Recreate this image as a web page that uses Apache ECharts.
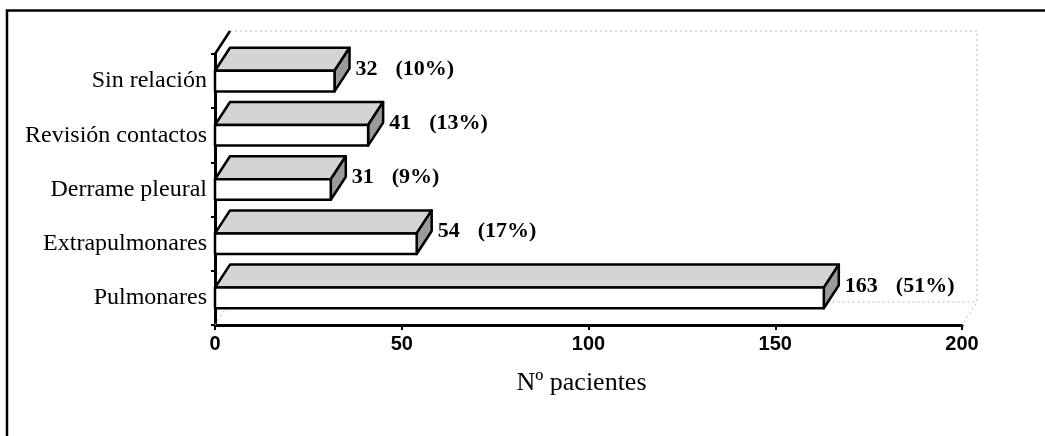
<!DOCTYPE html>
<html>
<head>
<meta charset="utf-8">
<script src="https://cdn.jsdelivr.net/npm/echarts@6/dist/echarts.min.js"></script>
<style>
  html, body { margin: 0; padding: 0; background: #fff; }
  #chart { width: 1045px; height: 436px; }
</style>
</head>
<body>
<div id="chart"></div>
<script>
// data, bottom to top
const categories = ['Pulmonares', 'Extrapulmonares', 'Derrame pleural', 'Revisión contactos', 'Sin relación'];
const patients = [163, 54, 31, 41, 32];
const percents = ['51%', '17%', '9%', '13%', '10%'];
const xTicks = [0, 50, 100, 150, 200];

const DX = 15, DY = -23;   // 3d depth offset in px
const serif = "'Liberation Serif', 'Times New Roman', serif";

const chart = echarts.init(document.getElementById('chart'));

function renderBar(params, api) {
  const v = api.value(0), i = api.value(1);
  const band = api.size([0, 1])[1];
  const h = band * 0.38 / 2;
  const p0 = api.coord([0, i]);
  const p1 = api.coord([v, i]);
  const x0 = p0[0], x1 = p1[0], yc = p0[1];
  const yT = yc - h, yB = yc + h;
  const edge = { stroke: '#000', lineWidth: 2.5, lineJoin: 'round' };
  return {
    type: 'group',
    children: [
      { type: 'polygon', shape: { points: [[x0, yT], [x1, yT], [x1 + DX, yT + DY], [x0 + DX, yT + DY]] },
        style: Object.assign({ fill: '#d4d4d4' }, edge) },
      { type: 'polygon', shape: { points: [[x1, yT], [x1 + DX, yT + DY], [x1 + DX, yB + DY], [x1, yB]] },
        style: Object.assign({ fill: '#9a9a9a' }, edge) },
      { type: 'rect', shape: { x: x0, y: yT, width: x1 - x0, height: yB - yT },
        style: Object.assign({ fill: '#fff' }, edge) },
      { type: 'text', x: x1 + DX + 6, y: yc - 12,
        style: {
          text: '{n|' + patients[params.dataIndex] + '}{p|(' + percents[params.dataIndex] + ')}',
          verticalAlign: 'middle',
          rich: {
            n: { fontFamily: serif, fontWeight: 'bold', fontSize: 22, fill: '#000' },
            p: { fontFamily: serif, fontWeight: 'bold', fontSize: 22, fill: '#000', padding: [0, 0, 0, 18] }
          }
        } }
    ]
  };
}

function renderWall(params, api) {
  const band = api.size([0, 1])[1];
  const a = api.coord([0, 0]), b = api.coord([200, categories.length - 1]);
  const left = a[0], right = b[0];
  const bottom = a[1] + band / 2, top = b[1] - band / 2;
  const faint = { stroke: '#b8b8b8', lineWidth: 1, lineDash: [2, 3], fill: 'none' };
  return {
    type: 'group',
    children: [
      { type: 'polyline', shape: { points: [[left + DX, top + DY], [right + DX, top + DY], [right + DX, bottom + DY], [right, bottom]] },
        style: faint },
      { type: 'polyline', shape: { points: [[left, bottom], [left + DX, bottom + DY], [right + DX, bottom + DY]] },
        style: faint },
      { type: 'line', shape: { x1: left, y1: top, x2: left + DX, y2: top + DY },
        style: { stroke: '#000', lineWidth: 2.5 } }
    ]
  };
}

const option = {
  backgroundColor: '#fff',
  animation: false,
  grid: { left: 215, right: 83, top: 54, bottom: 111 },
  graphic: [
    { type: 'polyline', shape: { points: [[7, 436], [7, 10.5], [1045, 10.5]] },
      style: { stroke: '#000', lineWidth: 2.5, fill: 'none' } }
  ],
  xAxis: {
    type: 'value',
    min: xTicks[0],
    max: xTicks[xTicks.length - 1],
    interval: 50,
    name: 'Nº pacientes',
    nameLocation: 'middle',
    nameGap: 45,
    nameTextStyle: { fontFamily: serif, fontSize: 26, color: '#000', padding: [0, 14, 0, 0] },
    axisLine: { show: true, lineStyle: { color: '#000', width: 3 } },
    axisTick: { show: true, length: 5, lineStyle: { color: '#000', width: 2 } },
    axisLabel: { fontFamily: "'Liberation Sans', Arial, sans-serif", fontWeight: 'bold', fontSize: 20, color: '#000', margin: 9 },
    splitLine: { show: false }
  },
  yAxis: {
    type: 'category',
    data: categories,
    axisLine: { show: true, lineStyle: { color: '#000', width: 3 } },
    axisTick: { show: true, length: 4, lineStyle: { color: '#000', width: 2 } },
    axisLabel: { fontFamily: serif, fontSize: 24, color: '#000', margin: 8 },
    splitLine: { show: false }
  },
  series: [
    {
      name: 'wall',
      type: 'custom',
      renderItem: renderWall,
      data: [[0, 0]],
      encode: { x: 0, y: 1 },
      silent: true,
      clip: false,
      z: 1
    },
    {
      name: 'Nº pacientes',
      type: 'custom',
      renderItem: renderBar,
      data: patients.map((v, i) => [v, i]),
      encode: { x: 0, y: 1 },
      clip: false,
      z: 3
    }
  ]
};

chart.setOption(option);
</script>
</body>
</html>
